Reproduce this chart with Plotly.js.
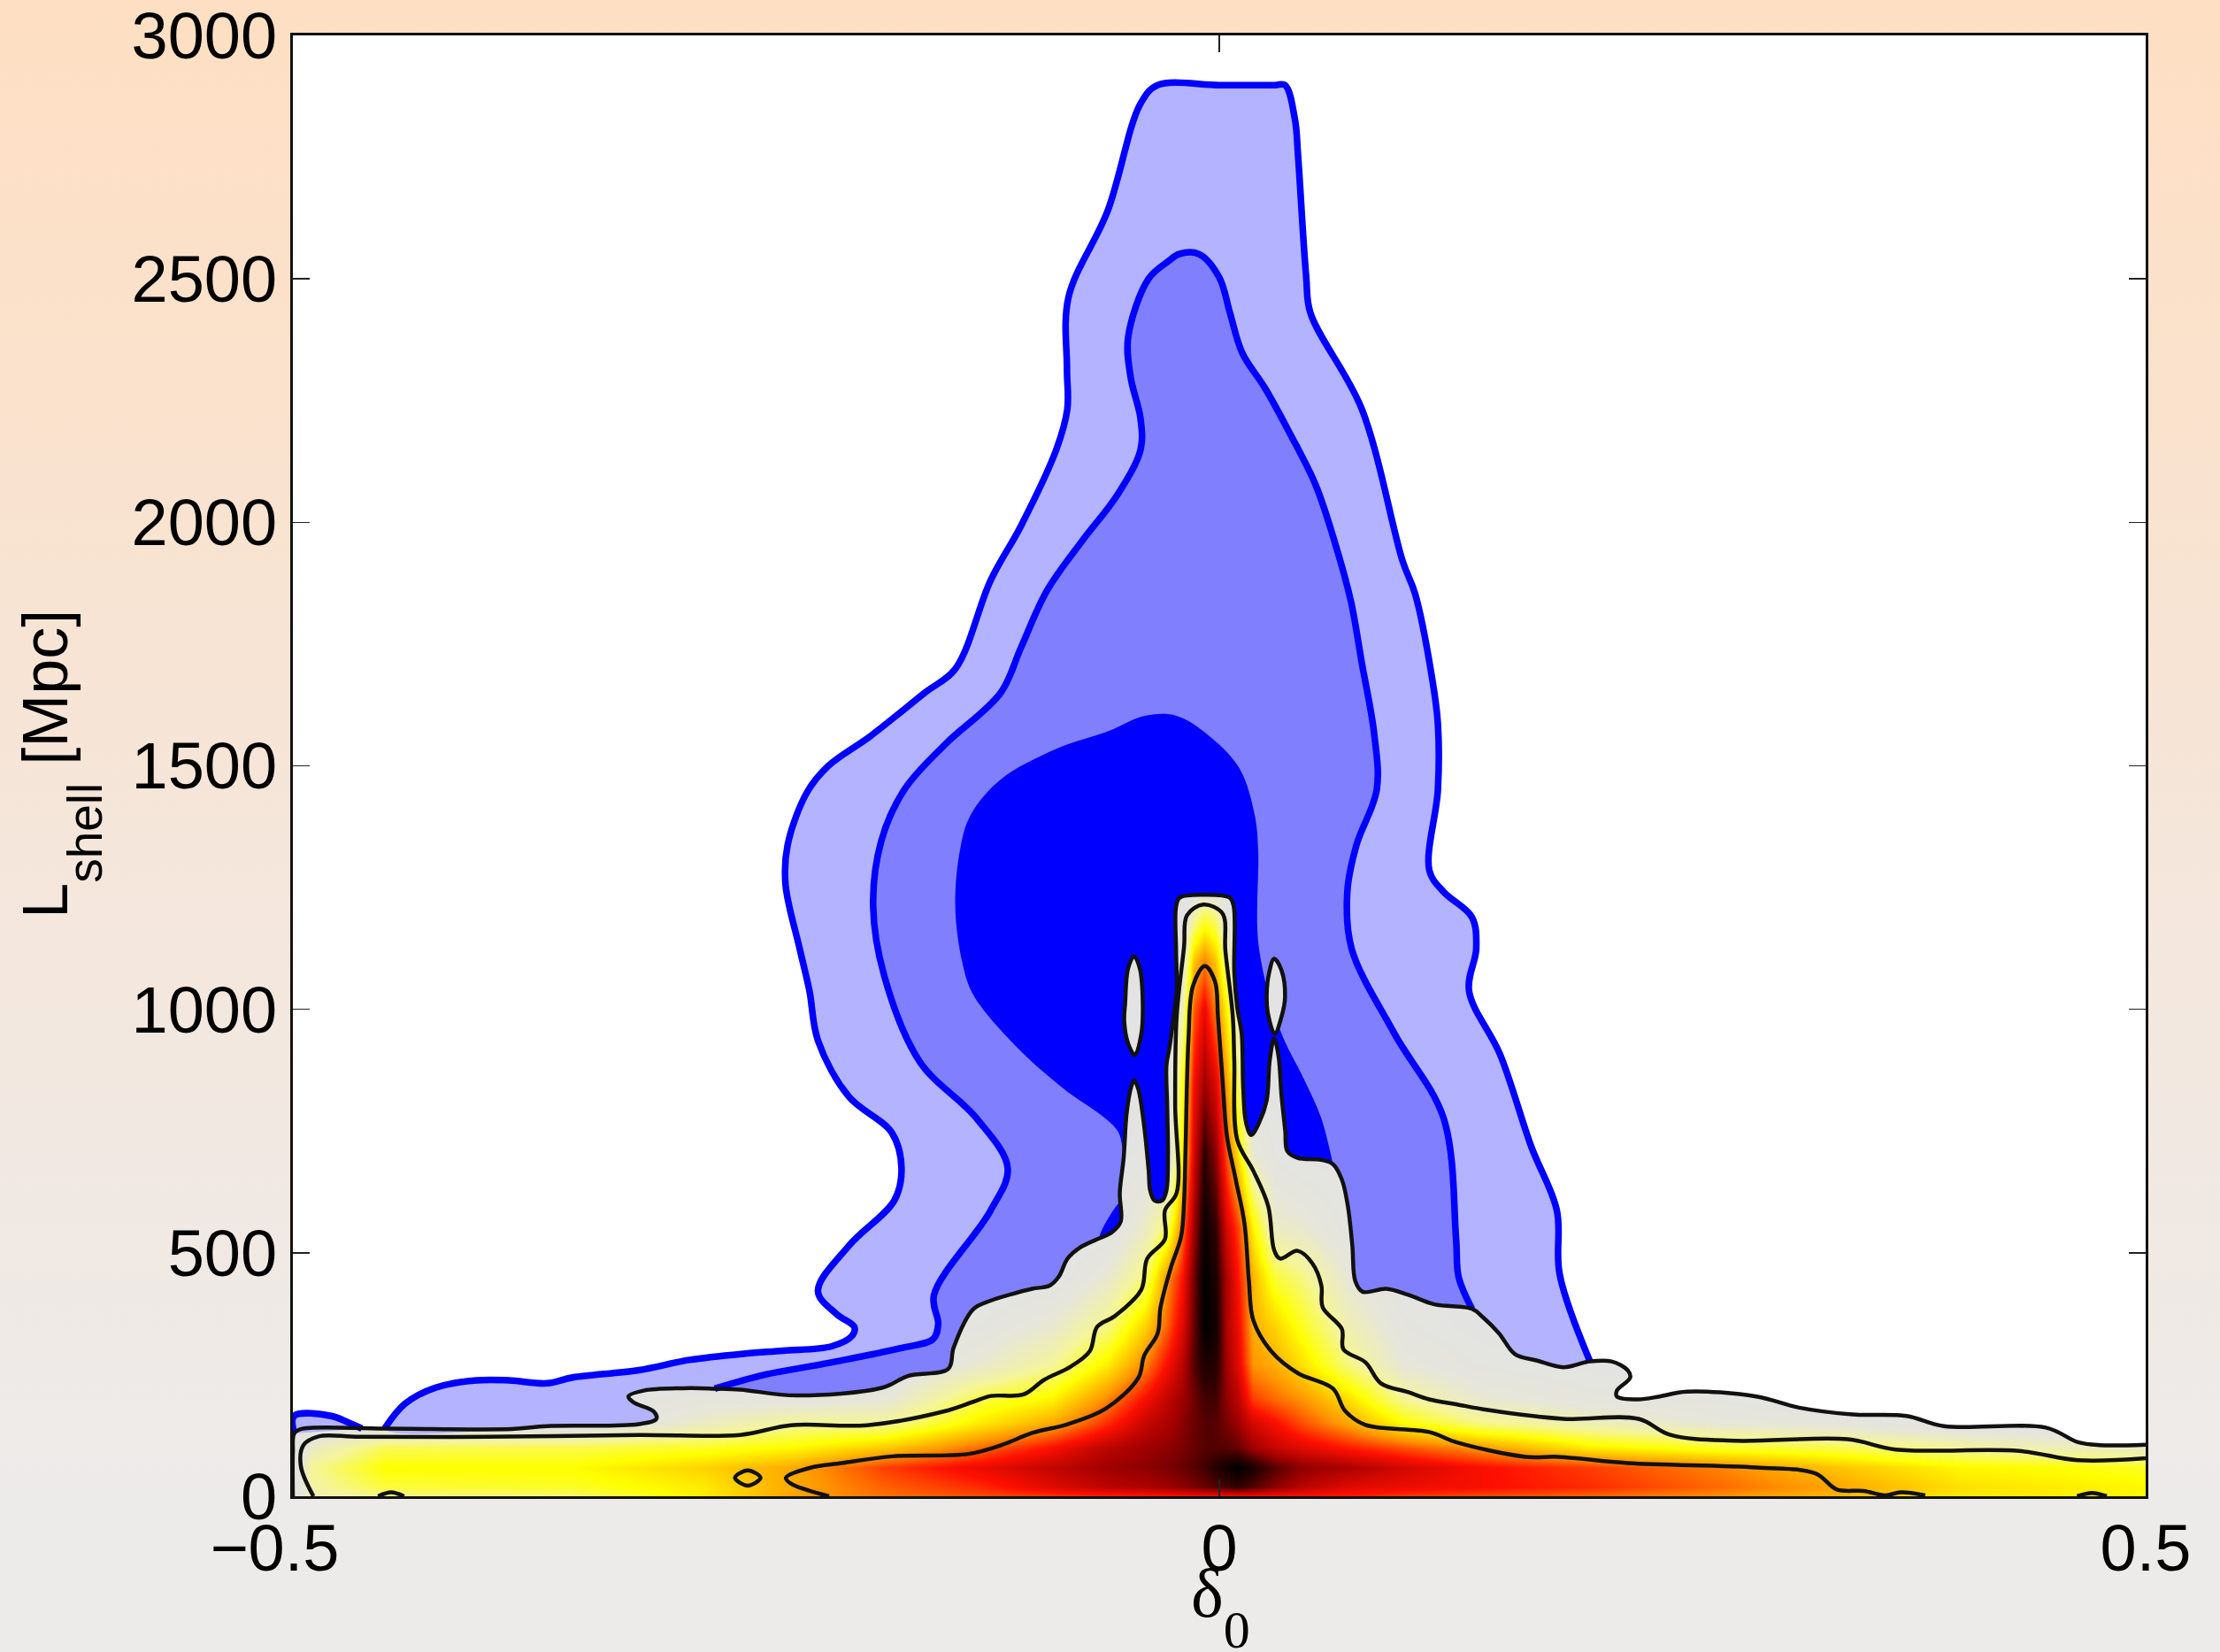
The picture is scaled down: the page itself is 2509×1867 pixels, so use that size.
<!DOCTYPE html>
<html><head><meta charset="utf-8">
<script src="https://cdn.plot.ly/plotly-3.0.1.min.js"></script>
<style>
html,body{margin:0;padding:0;width:2509px;height:1867px;overflow:hidden;
background:linear-gradient(to bottom,#fedfc3 0%,#fae2cd 25%,#f5e6da 50%,#f0e9e4 75%,#edebe9 90%,#edebe9 100%);}
#chart{width:2509px;height:1867px;}
</style></head><body><div id="chart"></div>
<script>
// Outermost black contour (top edge of the grey region), left to right: [delta0, Lshell]
const contourOuter = [[-0.5,0],[-0.5,90],[-0.4993,129],[-0.4957,138],[-0.4505,139],[-0.3819,138],[-0.3628,144],[-0.3134,148],[-0.3038,159],[-0.3052,174],[-0.3162,193],[-0.3189,205],[-0.3107,217],[-0.2860,222],[-0.2723,221],[-0.2586,219],[-0.2284,207],[-0.1818,223],[-0.1681,247],[-0.1462,262],[-0.1434,305],[-0.1328,384],[-0.1232,402],[-0.1121,415],[-0.1010,426],[-0.0914,433],[-0.0866,451],[-0.0819,488],[-0.0755,510],[-0.0659,528],[-0.0580,542],[-0.0532,564],[-0.0537,623],[-0.0516,695],[-0.0500,786],[-0.0476,840],[-0.0459,854],[-0.0437,836],[-0.0408,768],[-0.0381,668],[-0.0373,628],[-0.0349,607],[-0.0309,607],[-0.0285,628],[-0.0277,695],[-0.0281,804],[-0.0285,885],[-0.0269,921],[-0.0246,985],[-0.0230,1039],[-0.0233,1120],[-0.0233,1211],[-0.0214,1229],[-0.0086,1235],[0.0057,1229],[0.0078,1211],[0.0081,1075],[0.0097,1003],[0.0121,949],[0.0129,840],[0.0144,768],[0.0172,742],[0.0216,768],[0.0256,813],[0.0272,894],[0.0296,940],[0.0320,903],[0.0336,822],[0.0356,750],[0.0367,709],[0.0423,695],[0.0550,691],[0.0614,682],[0.0662,650],[0.0694,596],[0.0718,515],[0.0734,442],[0.0773,420],[0.0901,426],[0.1017,414],[0.1162,394],[0.1364,385],[0.1422,368],[0.1509,335],[0.1596,292],[0.1712,279],[0.1857,265],[0.2001,277],[0.2117,277],[0.2204,259],[0.2218,244],[0.2146,217],[0.2146,205],[0.2262,199],[0.2377,205],[0.2522,215],[0.2899,205],[0.3130,182],[0.3419,168],[0.3709,165],[0.3911,144],[0.4461,141],[0.4635,111],[0.4751,105],[0.5,106]];
// Middle black contour
const contourMiddle = [[-0.4889,0],[-0.4957,62],[-0.4943,105],[-0.4861,123],[-0.4642,122],[-0.3957,122],[-0.3134,126],[-0.2586,126],[-0.2312,146],[-0.1900,146],[-0.1489,174],[-0.1328,194],[-0.1232,206],[-0.1057,209],[-0.0946,239],[-0.0803,266],[-0.0699,298],[-0.0659,348],[-0.0564,370],[-0.0421,424],[-0.0389,488],[-0.0293,528],[-0.0293,587],[-0.0230,623],[-0.0238,804],[-0.0230,985],[-0.0190,1129],[-0.0174,1193],[-0.0086,1215],[0.0017,1197],[0.0033,1120],[0.0073,985],[0.0081,894],[0.0097,732],[0.0184,668],[0.0264,596],[0.0296,506],[0.0328,488],[0.0423,504],[0.0503,478],[0.0551,433],[0.0558,388],[0.0662,343],[0.0670,302],[0.0789,275],[0.0872,232],[0.1017,214],[0.1133,199],[0.1278,189],[0.1451,177],[0.1857,159],[0.2262,159],[0.2435,126],[0.2783,114],[0.3391,117],[0.3651,96],[0.4317,93],[0.4635,74],[0.5,78]];
// Inner black contour
const contourInner = [[-0.2106,0],[-0.2312,26],[-0.2339,38],[-0.2202,59],[-0.2038,68],[-0.1763,82],[-0.1352,87],[-0.1169,106],[-0.1010,130],[-0.0819,148],[-0.0612,180],[-0.0437,243],[-0.0405,289],[-0.0333,334],[-0.0317,388],[-0.0261,470],[-0.0206,533],[-0.0190,605],[-0.0182,714],[-0.0166,940],[-0.0142,1048],[-0.0078,1089],[-0.0023,1057],[-0.0007,985],[0.0017,858],[0.0041,741],[0.0089,650],[0.0136,560],[0.0160,442],[0.0184,361],[0.0280,298],[0.0423,253],[0.0614,221],[0.0678,176],[0.0786,147],[0.1133,132],[0.1278,111],[0.1654,81],[0.1828,81],[0.2204,68],[0.2899,59],[0.3217,47],[0.3333,14],[0.3477,11],[0.3593,2],[0.3679,8],[0.3810,2]];
const innerLoop = [[-0.2614,38],[-0.2545,53],[-0.2476,38],[-0.2545,22],[-0.2614,38]];
const bumpLeft = [[-0.4540,0],[-0.4470,8],[-0.4400,0]];
const bumpRight = [[0.4630,0],[0.4710,7],[0.4790,0]];
const islandLeft = [[-0.0508,1012],[-0.0492,1084],[-0.0460,1109],[-0.0429,1084],[-0.0413,1012],[-0.0421,949],[-0.0456,906],[-0.0492,930],[-0.0513,976],[-0.0508,1012]];
const islandRight = [[0.0256,1030],[0.0269,1075],[0.0296,1104],[0.0336,1080],[0.0355,1025],[0.0336,985],[0.0299,950],[0.0264,989],[0.0256,1030]];
// Blue confidence contours: upper boundaries, ending on the grey region
const blueOuterLeft = [[-0.4993,129],[-0.4993,165],[-0.4793,165],[-0.4710,153],[-0.4628,139]];
const blueOuter = [[-0.4505,139],[-0.4395,190],[-0.4230,223],[-0.4010,238],[-0.3833,238],[-0.3628,232],[-0.3491,244],[-0.3134,259],[-0.2860,280],[-0.2558,293],[-0.2353,299],[-0.2092,308],[-0.1983,329],[-0.1969,347],[-0.2065,374],[-0.2166,421],[-0.1998,515],[-0.1753,608],[-0.1715,674],[-0.1768,747],[-0.1998,820],[-0.2166,936],[-0.2212,1038],[-0.2265,1125],[-0.2341,1256],[-0.2330,1337],[-0.2226,1445],[-0.2110,1500],[-0.1883,1561],[-0.1590,1650],[-0.1423,1700],[-0.1234,1881],[-0.1070,1993],[-0.0880,2149],[-0.0820,2233],[-0.0822,2316],[-0.0814,2462],[-0.0602,2640],[-0.0425,2860],[-0.0332,2898],[0.0000,2898],[0.0300,2898],[0.0355,2898],[0.0409,2826],[0.0425,2754],[0.0469,2505],[0.0492,2430],[0.0769,2233],[0.0990,1920],[0.1058,1852],[0.1150,1677],[0.1180,1586],[0.1180,1451],[0.1134,1285],[0.1211,1241],[0.1364,1189],[0.1387,1125],[0.1348,1038],[0.1516,907],[0.1684,718],[0.1822,587],[0.1837,456],[0.2001,277]];
const blueMiddle = [[-0.2723,221],[-0.2449,250],[-0.2147,271],[-0.1709,305],[-0.1544,323],[-0.1517,353],[-0.1540,413],[-0.1234,587],[-0.1142,674],[-0.1310,776],[-0.1616,892],[-0.1807,1067],[-0.1868,1212],[-0.1824,1346],[-0.1700,1451],[-0.1480,1544],[-0.1180,1650],[-0.1070,1743],[-0.0931,1859],[-0.0740,1962],[-0.0549,2057],[-0.0425,2149],[-0.0425,2213],[-0.0478,2297],[-0.0492,2380],[-0.0382,2500],[-0.0272,2537],[-0.0217,2551],[-0.0110,2551],[0.0000,2503],[0.0057,2431],[0.0124,2348],[0.0248,2275],[0.0382,2182],[0.0520,2077],[0.0630,1951],[0.0711,1837],[0.0769,1712],[0.0836,1566],[0.0850,1451],[0.0740,1337],[0.0691,1241],[0.0714,1125],[0.0944,951],[0.1211,776],[0.1278,529],[0.1292,450],[0.1364,385]];
const blueInner = [[-0.0516,695],[-0.0548,750],[-0.0850,840],[-0.1089,921],[-0.1328,1030],[-0.1387,1096],[-0.1425,1212],[-0.1399,1328],[-0.1342,1399],[-0.1180,1472],[-0.0879,1535],[-0.0602,1571],[-0.0396,1603],[-0.0234,1603],[-0.0053,1561],[0.0110,1494],[0.0191,1399],[0.0210,1328],[0.0213,1129],[0.0328,958],[0.0455,858],[0.0550,777],[0.0614,682]];
const blueSliver = [[-0.0644,533],[-0.0532,605],[-0.0532,564],[-0.0580,542],[-0.0644,533]];

// Probability density, on an uneven grid
const densityX = [-0.5,-0.49,-0.45,-0.35,-0.28,-0.23,-0.18,-0.13,-0.09,-0.06,-0.04,-0.028,-0.02,-0.014,-0.008,-0.002,0.004,0.01,0.018,0.03,0.045,0.07,0.1,0.14,0.2,0.27,0.33,0.4,0.45,0.5];
const densityY = [0,20,60,100,150,200,270,350,450,550,700,850,1000,1100,1200,1250];
const density = [
[0,.15,.21,.23,.36,.48,.54,.58,.6,.62,.63,.64,.65,.66,.66,.66,.66,.66,.66,.65,.64,.63,.6,.58,.55,.5,.45,.36,.36,.33],
[0,.18,.28,.3,.36,.47,.56,.62,.7,.76,.78,.8,.82,.84,.86,.88,.9,.92,.88,.82,.76,.7,.68,.66,.62,.55,.48,.38,.36,.34],
[0,.2,.33,.33,.4,.47,.6,.68,.75,.8,.82,.84,.86,.88,.9,.94,.97,1,.95,.88,.82,.78,.72,.66,.6,.52,.43,.34,.33,.3],
[0,.12,.26,.27,.3,.34,.42,.55,.66,.76,.8,.82,.84,.86,.88,.88,.88,.86,.8,.74,.7,.64,.58,.5,.36,.3,.27,.2,.15,.12],
[0,0,0,0,.12,.2,.2,.36,.47,.62,.74,.78,.82,.86,.88,.88,.84,.8,.72,.66,.58,.47,.33,.22,.15,.08,.06,0,0,0],
[0,0,0,0,.05,.05,.08,.27,.35,.52,.66,.75,.8,.85,.9,.9,.82,.76,.6,.55,.5,.38,.2,.1,.05,.03,0,0,0,0],
[0,0,0,0,0,0,0,.1,.2,.36,.52,.66,.76,.88,.95,.94,.8,.7,.5,.46,.38,.22,.08,.03,0,0,0,0,0,0],
[0,0,0,0,0,0,0,.03,.1,.22,.4,.56,.7,.86,1,.97,.78,.68,.46,.4,.3,.15,.04,0,0,0,0,0,0,0],
[0,0,0,0,0,0,0,0,0,.1,.23,.5,.65,.85,1,.95,.78,.65,.45,.28,.22,.08,0,0,0,0,0,0,0,0],
[0,0,0,0,0,0,0,0,0,0,.12,.25,.53,.8,.98,.92,.72,.6,.35,.12,.1,.02,0,0,0,0,0,0,0,0],
[0,0,0,0,0,0,0,0,0,0,.02,0,.35,.72,.93,.82,.58,.38,.1,.03,0,0,0,0,0,0,0,0,0,0],
[0,0,0,0,0,0,0,0,0,0,0,0,.3,.66,.8,.7,.48,.25,0,0,0,0,0,0,0,0,0,0,0,0],
[0,0,0,0,0,0,0,0,0,0,0,0,.15,.56,.68,.52,.35,.1,0,0,0,0,0,0,0,0,0,0,0,0],
[0,0,0,0,0,0,0,0,0,0,0,0,.05,.42,.52,.42,.2,.02,0,0,0,0,0,0,0,0,0,0,0,0],
[0,0,0,0,0,0,0,0,0,0,0,0,0,.15,.24,.2,.03,0,0,0,0,0,0,0,0,0,0,0,0,0],
[0,0,0,0,0,0,0,0,0,0,0,0,0,0,0,0,0,0,0,0,0,0,0,0,0,0,0,0,0,0]];
const heatStops = [[0,'#e3e3e3'],[0.08,'#e6e6da'],[0.2,'#f5f59a'],[0.33,'#ffff00'],[0.42,'#ffc800'],[0.5,'#ff9600'],[0.65,'#ff1000'],[0.8,'#a00000'],[0.92,'#300000'],[1,'#000000']];

const xTicks = [-0.5,0,0.5];
const xLabels = ['\u22120.5\u00A0\u00A0','0','0.5'];
const yTicks = [0,500,1000,1500,2000,2500,3000];
const yLabels = ['0','500','1000','1500','2000','2500','3000'];
const xTitleText = '<span style="font-size:78px">\u03B4</span><sub><span style="font-size:60px">0</span></sub>';
const yTitleText = '<span style="font-size:72px">L</span><sub><span style="font-size:55px">shell</span></sub><span style="font-size:72px"> [Mpc]</span>';
const BLUE='#0000ff', LIGHT='#b3b3ff', MID='#8080ff', SOLID='#0000ff', BLACK='#111111', GREY='#e3e3e3';

const xs = p => p.map(a=>a[0]), ys = p => p.map(a=>a[1]);
const keyIndex = x => contourOuter.findIndex(a=>a[0]===x);
const alongOuter = (x0,x1) => contourOuter.slice(keyIndex(x0),keyIndex(x1)+1).reverse();
const SM = 1.0;
const fillT = (pts,color) => ({type:'scatter',mode:'lines',x:xs(pts),y:ys(pts),fill:'toself',fillcolor:color,
  line:{width:0,shape:'spline',smoothing:SM},hoverinfo:'skip',showlegend:false});
const lineT = (pts,color,w) => ({type:'scatter',mode:'lines',x:xs(pts),y:ys(pts),
  line:{color:color,width:w,shape:'spline',smoothing:SM},hoverinfo:'skip',showlegend:false});

const maskOutside = contourOuter.concat([[0.6,106],[0.6,3500],[-0.6,3500],[-0.6,0]]);
const traces = [
 {type:'heatmap',x:densityX,y:densityY,z:density,zmin:0,zmax:1,zsmooth:'best',colorscale:heatStops,showscale:false,hoverinfo:'skip'},
 fillT(maskOutside,'#ffffff'),
 fillT(blueOuter.concat(alongOuter(-0.4505,0.2001)),LIGHT),
 fillT(blueOuterLeft,LIGHT),
 fillT(blueMiddle.concat(alongOuter(-0.2723,0.1364)),MID),
 fillT(blueInner.concat(alongOuter(-0.0516,0.0614)),SOLID),
 fillT(blueSliver,SOLID),
 lineT(blueOuter,BLUE,7.5),
 lineT(blueOuterLeft,BLUE,7.5),
 lineT(blueMiddle,BLUE,7.5),
 fillT(islandLeft,GREY),
 fillT(islandRight,GREY),
 lineT(islandLeft,BLACK,4.5),
 lineT(islandRight,BLACK,4.5),
 lineT(contourOuter,BLACK,4.5),
 lineT(contourMiddle,BLACK,4.5),
 lineT(contourInner,BLACK,4.5),
 lineT(innerLoop,BLACK,4.5),
 lineT(bumpLeft,BLACK,4.5),
 lineT(bumpRight,BLACK,4.5)
];
const tickFont = {family:'Liberation Sans, Arial, sans-serif',size:74,color:'#000'};
const axis = {showgrid:false,zeroline:false,showline:true,linecolor:'#111',linewidth:3,mirror:'allticks',
  ticks:'inside',ticklen:19,tickwidth:1.5,tickcolor:'#222',tickmode:'array',tickfont:tickFont,layer:'above traces',ticklabeloverflow:'allow'};
const layout = {
 width:2509,height:1867,autosize:false,
 margin:{l:331,r:84,t:40,b:176,pad:0},
 paper_bgcolor:'rgba(0,0,0,0)',plot_bgcolor:'#ffffff',showlegend:false,
 xaxis:Object.assign({},axis,{range:[-0.5,0.5],tickvals:xTicks,ticktext:xLabels,ticklabelstandoff:-8}),
 yaxis:Object.assign({},axis,{range:[0,3000],tickvals:yTicks,ticktext:yLabels,ticklabelstandoff:0}),
 annotations:[
  {xref:'paper',yref:'paper',x:0.5005,y:-0.0755,xanchor:'center',yanchor:'middle',showarrow:false,text:xTitleText,
   font:{family:'Liberation Serif, serif',size:167,color:'#000'}},
  {xref:'paper',yref:'paper',x:-0.1251,y:0.501,xanchor:'center',yanchor:'middle',showarrow:false,textangle:-90,text:yTitleText,
   font:{family:'Liberation Sans, Arial, sans-serif',size:186,color:'#000'}}
 ]
};
Plotly.newPlot('chart',traces,layout,{displayModeBar:false,staticPlot:true});
</script></body></html>
